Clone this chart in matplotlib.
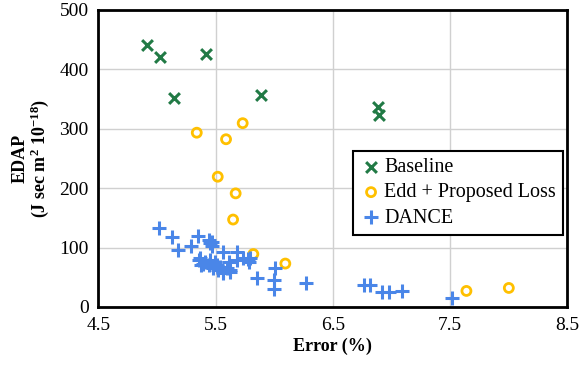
import matplotlib
matplotlib.use("Agg")
import matplotlib.pyplot as plt

plt.rcParams['font.family'] = ['Liberation Serif', 'DejaVu Serif']
plt.rcParams['mathtext.fontset'] = 'custom'
plt.rcParams['mathtext.rm'] = 'Liberation Serif'
plt.rcParams['mathtext.bf'] = 'Liberation Serif:bold'

baseline_x = [4.917, 5.029, 5.418, 5.147, 5.888, 6.889, 6.898]
baseline_y = [440, 421, 425, 352, 357, 337, 322]

edd_x = [5.339, 5.731, 5.589, 5.518, 5.671, 5.649, 5.822, 6.095, 7.641, 8.003]
edd_y = [293, 309, 282, 219, 191, 147, 89, 73, 27, 32]

dance_x = [5.019, 5.128, 5.182, 5.287, 5.350, 5.444, 5.452, 5.466, 5.367, 5.375,
           5.410, 5.452, 5.495, 5.509, 5.538, 5.566, 5.566, 5.595, 5.623, 5.610,
           5.680, 5.680, 5.737, 5.779, 5.788, 5.851, 6.007, 5.999, 5.999, 6.270,
           5.467, 5.566, 5.623, 5.794, 5.440, 5.480, 5.520, 5.360, 5.390,
           6.770, 6.819, 6.918, 6.983, 7.089, 7.521]
dance_y = [132, 117, 96, 103, 119, 113, 107, 103, 82, 71,
           76, 79, 76, 71, 68, 93, 57, 65, 62, 75,
           93, 79, 82, 80, 76, 48, 65, 45, 30, 41,
           110, 59, 59, 82, 70, 66, 62, 79, 73,
           37, 37, 26, 26, 27, 15]

x_ticks = [4.5, 5.5, 6.5, 7.5, 8.5]
y_ticks = [0, 100, 200, 300, 400, 500]

fig = plt.figure(figsize=(5.81, 3.68), dpi=100)
ax = fig.add_axes([0.1695, 0.1658, 0.976 - 0.1695, 0.974 - 0.1658])

ax.scatter(baseline_x, baseline_y, marker='x', s=60, color='#217a45', linewidths=2.2,
           label='Baseline', zorder=3)
ax.scatter(edd_x, edd_y, marker='o', s=42, facecolors='none', edgecolors='#ffc000',
           linewidths=2, label='Edd + Proposed Loss', zorder=3)
ax.scatter(dance_x, dance_y, marker='+', s=90, color='#4a86e8', linewidths=2.2,
           label='DANCE', zorder=3)

ax.set_xlim(4.5, 8.5)
ax.set_ylim(0, 500)
ax.set_xticks(x_ticks)
ax.set_xticklabels([f'{t:.1f}' for t in x_ticks])
ax.set_yticks(y_ticks)
ax.grid(True, color='#d0d0d0', linewidth=1)
ax.set_axisbelow(True)
for s in ax.spines.values():
    s.set_linewidth(2)
    s.set_color('black')
ax.tick_params(length=0, labelsize=14, pad=7)

ax.set_xlabel('Error (%)', fontsize=13, fontweight='bold', labelpad=3)
ax.set_ylabel('EDAP\n(J sec m$\\mathbf{^2}$ 10$\\mathbf{^{-18}}$)', fontsize=13,
              fontweight='bold', labelpad=6, linespacing=1.0)

leg = ax.legend(loc='upper left', bbox_to_anchor=(0.543, 0.524), fontsize=14.5,
                frameon=True, fancybox=False, edgecolor='black', framealpha=1,
                handletextpad=0.1, handlelength=1.1, borderpad=0.35, labelspacing=0.3,
                borderaxespad=0)
leg.get_frame().set_linewidth(1.5)

fig.savefig('out.png', dpi=100)
